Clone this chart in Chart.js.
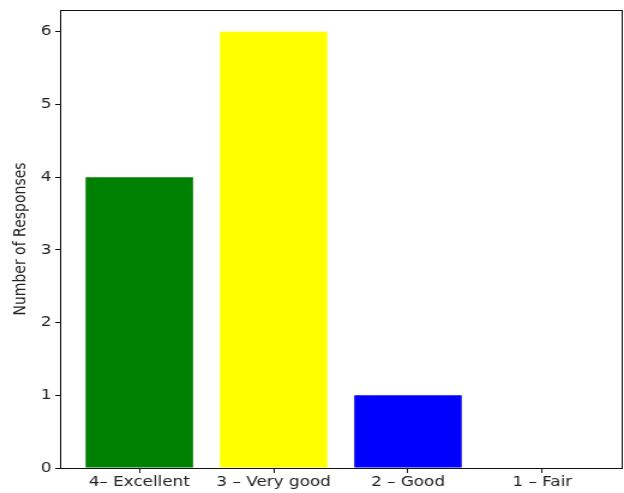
<!DOCTYPE html>
<html>
<head>
<meta charset="utf-8">
<script src="https://cdn.jsdelivr.net/npm/chart.js@4"></script>
<style>
html,body{margin:0;padding:0;background:#fff;overflow:hidden;}
#wrap{width:520px;height:493px;transform:scaleX(1.2);transform-origin:0 0;}
</style>
</head>
<body>
<div id="wrap"><canvas id="c" width="520" height="493"></canvas></div>
<script>
const categories = ["4– Excellent", "3 – Very good", "2 – Good", "1 – Fair"];
const responses = [4, 6, 1, 0];
const barColors = ["#008000", "#ffff00", "#0000ff", "#ff0000"];
const yTicks = [0, 1, 2, 3, 4, 5, 6];

const points = categories.map((c, i) => ({x: i, y: responses[i]}));

const frame = {
  id: 'frame',
  afterDatasetsDraw(chart) {
    const a = chart.chartArea, ctx = chart.ctx;
    ctx.save();
    ctx.strokeStyle = '#111';
    ctx.lineWidth = 1;
    ctx.strokeRect(Math.round(a.left) + 0.5, Math.round(a.top) + 0.5,
                   Math.round(a.right - a.left), Math.round(a.bottom - a.top));
    ctx.restore();
  }
};

new Chart(document.getElementById('c'), {
  type: 'bar',
  data: {
    datasets: [{
      data: points,
      backgroundColor: barColors,
      borderWidth: 0,
      barPercentage: 0.8,
      categoryPercentage: 1.0
    }]
  },
  options: {
    responsive: false,
    animation: false,
    devicePixelRatio: 1,
    layout: {padding: {left: 0, right: 2, top: 10, bottom: 0}},
    plugins: {legend: {display: false}, tooltip: {enabled: false}},
    scales: {
      x: {
        type: 'linear',
        min: -0.59, max: 3.59,
        offset: false,
        afterBuildTicks: (s) => { s.ticks = categories.map((c, i) => ({value: i})); },
        afterFit: (s) => { s.height = 25; s.paddingLeft = 0; s.paddingRight = 0; },
        grid: {offset: false, drawOnChartArea: false, drawTicks: true, tickLength: 5, color: '#111', tickWidth: 1},
        border: {display: true, color: '#111', width: 1},
        ticks: {
          autoSkip: false, maxRotation: 0, padding: 1,
          color: '#222',
          font: {family: 'DejaVu Sans', size: 14},
          callback: (v) => categories[v] !== undefined ? categories[v] : ''
        }
      },
      y: {
        min: 0, max: 6.3,
        afterBuildTicks: (s) => { s.ticks = yTicks.map(v => ({value: v})); },
        afterFit: (s) => { s.width = 50; s.paddingTop = 0; s.paddingBottom = 0; },
        grid: {drawOnChartArea: false, drawTicks: true, tickLength: 4, color: '#111', tickWidth: 1},
        border: {display: true, color: '#111', width: 1},
        title: {display: true, text: 'Number of Responses', color: '#222',
                font: {family: 'DejaVu Sans', size: 14}, padding: {top: 9, bottom: 0}},
        ticks: {
          color: '#222', padding: 3,
          font: {family: 'DejaVu Sans', size: 14},
          callback: (v) => String(v)
        }
      }
    }
  },
  plugins: [frame]
});
</script>
</body>
</html>
